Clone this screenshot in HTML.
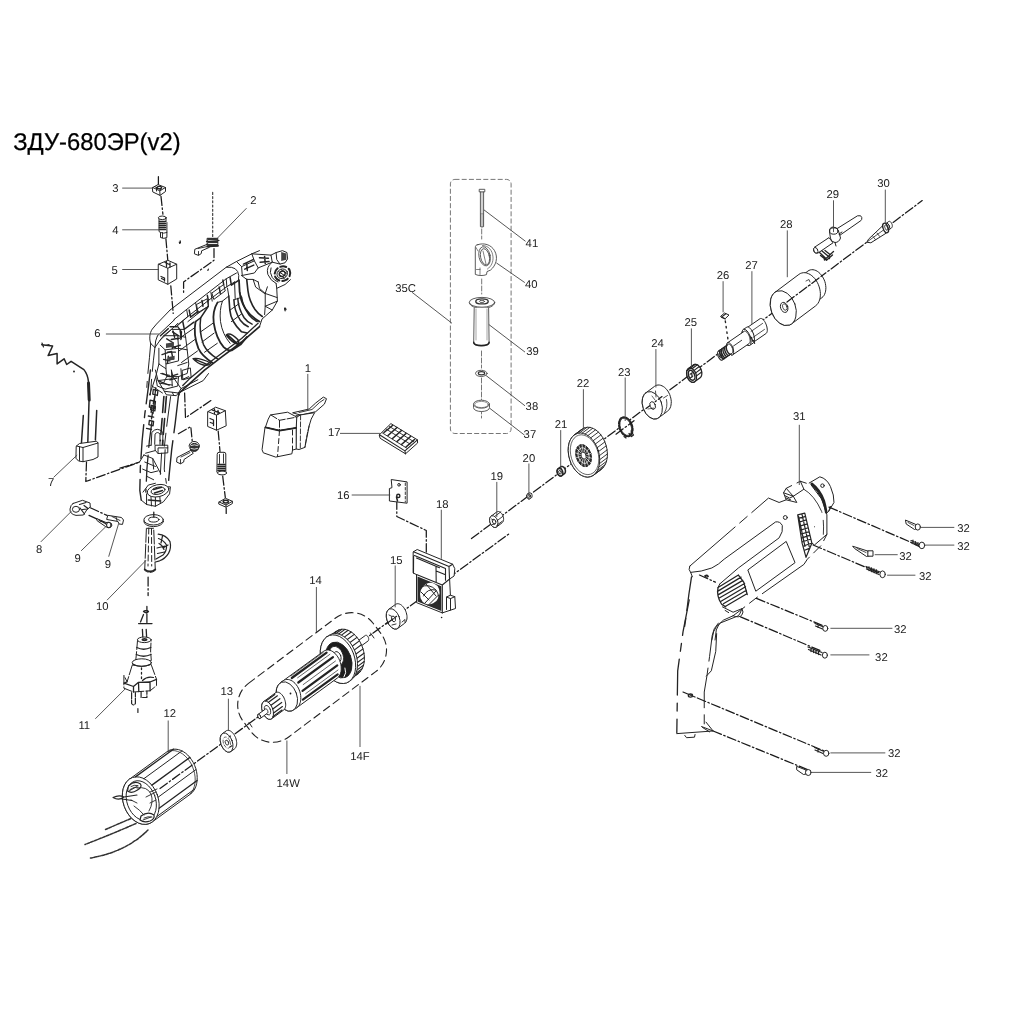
<!DOCTYPE html>
<html lang="ru"><head><meta charset="utf-8"><title>ЗДУ-680ЭР(v2)</title>
<style>
html,body{margin:0;padding:0;background:#fff;}
body{width:1017px;height:1017px;overflow:hidden;position:relative;font-family:"Liberation Sans",sans-serif;}
svg{position:absolute;left:0;top:0;display:block}
svg *{vector-effect:non-scaling-stroke}
svg text{vector-effect:none}
svg{will-change:transform}
.t{font-family:"Liberation Sans",sans-serif;fill:#222;stroke:none;text-rendering:geometricPrecision}
.lb{font-size:11.3px;text-anchor:middle}
.ld{stroke:#444;stroke-width:0.9;fill:none}
.p{stroke:#242424;stroke-width:1.0;fill:none;stroke-linejoin:round;stroke-linecap:round}
.pw{stroke:#242424;stroke-width:1.0;fill:#fff;stroke-linejoin:round;stroke-linecap:round}
.k{fill:#1c1c1c;stroke:none}
.ax{stroke:#1a1a1a;stroke-width:1.25;fill:none;stroke-dasharray:9 2.5 1.5 2.5}
.ds{stroke:#333;stroke-width:1;fill:none;stroke-dasharray:6 4}
</style></head><body>
<svg width="1017" height="1017" viewBox="0 0 1017 1017">
<rect x="0" y="0" width="1017" height="1017" fill="#fff" stroke="none"/>
<!-- 10_handle35.svg -->
<g id="g35" fill="none" stroke="#4a4a4a" stroke-width="0.9" stroke-linecap="round" stroke-linejoin="round">
<rect x="450.4" y="179.4" width="60.7" height="254.1" rx="4.5" ry="4.5" stroke="#666" stroke-dasharray="4.2 3"/>
<!-- axis -->
<path d="M481.7 229v10M481.7 279v15M481.5 351v17M481.5 378v22M481.5 409v9" stroke="#666" stroke-dasharray="5 2"/>
<!-- bolt 41 -->
<path d="M479.6 189.3h5.2v2.6h-5.2zM480.4 192v34.6q1.6 1 3.2 0V192" fill="#fff"/>
<path d="M480.6 214h2.8M480.6 216h2.8M480.6 218h2.8M480.6 220h2.8M480.6 222h2.8M480.6 224h2.8M480.6 226h2.8" stroke-width="0.7"/>
<path d="M482 192v22" stroke-width="0.5"/>
<!-- clamp 40 -->
<path d="M478 244.6c6-2 13 0 16.500 6c4 7 1.500 15-4 19.500l-3.500 1.500l-.5 3c-3 1.300-8 1.300-11.200-.2v-26.500c0-2.500 1-3.300 2.700-3.300z" fill="#fff"/>
<ellipse cx="484.600" cy="256.300" rx="5.600" ry="9.700" transform="rotate(-12 484.6 256.3)" fill="#fff"/>
<ellipse cx="485" cy="256.800" rx="4.400" ry="8.200" transform="rotate(-12 485 256.8)" />
<path d="M482.500 245.500c6 0 10 5 10.500 11.500c.4 5-1.800 9.500-5.500 12M476 247.500l2 3.500M480 268v6.500M476.5 269.500h3.500M483 251l3 13" stroke-width="0.7"/>
<!-- handle 39 -->
<ellipse cx="482" cy="302.300" rx="12.700" ry="4.900" fill="#fff"/>
<path d="M469.400 303c1 3.500 6 5.300 12.600 5.300s11.800-1.800 12.700-5.300" />
<ellipse cx="482" cy="301.400" rx="6.200" ry="2.500" stroke="#333" stroke-width="1.400"/>
<ellipse cx="482" cy="301.400" rx="2.600" ry="1.100"/>
<path d="M474.200 308l-.5 35c0 4 15.400 4 15.400 0l-.5-35" fill="#fff"/>
<path d="M473.700 342.300c0 4.200 15.400 4.200 15.400 0" stroke="#222" stroke-width="1.500"/>
<path d="M476 309v31M487 309v31" stroke-width="0.5"/>
<!-- washer 38 -->
<ellipse cx="481.300" cy="373.400" rx="5.800" ry="3.100" fill="#fff"/>
<ellipse cx="481.500" cy="373.300" rx="3.200" ry="1.600" stroke="#333" stroke-width="1.200"/>
<!-- ring 37 -->
<path d="M473.500 404.200v3.400c0 5.200 16 5.200 16 0v-3.400" fill="#fff"/>
<ellipse cx="481.500" cy="404.200" rx="8" ry="4" fill="#fff"/>
<ellipse cx="481.500" cy="404.500" rx="6.800" ry="3.100" stroke-width="0.6"/>
</g>
<!-- 20_upper.svg -->
<g id="upper" class="p">
<line class="ax" x1="471.5" y1="538.6" x2="922.2" y2="200.6"/>
<path class="pw" d="M867.1 241.9 L868.5 239.2 L882.3 226.1 L886.4 233 L871.2 242.6 Z"/>
<path d="M868 241.2 L884.5 229.3 M873 236.500 l2.500 3.200 M877 233 l2.600 3.400" stroke-width="0.8"/>
<path d="M886.1 223.5 L888.7 221.5 L888.9 221.4 L889.1 221.3 L889.4 221.3 L889.7 221.4 L889.9 221.5 L890.2 221.6 L890.5 221.8 L890.8 222.1 L891.0 222.4 L891.3 222.7 L891.5 223.1 L891.7 223.5 L891.9 223.9 L892.1 224.4 L892.2 224.8 L892.3 225.2 L892.3 225.7 L892.3 226.1 L892.3 226.5 L892.2 226.8 L892.1 227.1 L892.0 227.4 L891.8 227.6 L891.6 227.8 L889.1 229.7 L889.1 229.7 L888.9 229.9 L888.6 229.9 L888.4 230.0 L888.1 229.9 L887.8 229.8 L887.5 229.7 L887.3 229.4 L887.0 229.2 L886.7 228.9 L886.5 228.5 L886.2 228.2 L886.0 227.8 L885.9 227.4 L885.7 226.9 L885.6 226.5 L885.5 226.0 L885.5 225.6 L885.5 225.2 L885.5 224.8 L885.5 224.5 L885.6 224.1 L885.8 223.9 L885.9 223.6 L886.1 223.5 Z" fill="#fff" />
<ellipse cx="887.6" cy="226.6" rx="1.9" ry="3.5" transform="rotate(-20.0 887.6 226.6)" fill="#fff" />
<ellipse cx="885.6" cy="228.0" rx="2.5" ry="5.0" transform="rotate(-20.0 885.6 228.0)" fill="#fff" stroke-width="1.3"/>
<ellipse cx="886.2" cy="227.6" rx="1.3" ry="2.8" transform="rotate(-20.0 886.2 227.6)" fill="none" stroke-width="0.8"/>
<path class="pw" d="M836.8 228.8 L857.5 215.8 Q861.5 214.8 861.8 217.6 Q862 219.8 860.9 220.6 L840.2 235 Z"/>
<path class="pw" d="M814.6 247.2 L829 237.6 L833 242.8 L817.8 253.2 Q814.8 254 813.6 251 Q813 248.600 814.6 247.2Z"/>
<ellipse class="pw" cx="815.8" cy="250.3" rx="1.9" ry="3" transform="rotate(-25 815.8 250.3)"/>
<path class="pw" d="M829.5 231.5 Q829 227.5 833 227 Q837.5 227 838.5 231 L840.5 238 Q839 242.5 835 242.5 Q831 242 830.5 238.5Z"/>
<ellipse cx="833.8" cy="231" rx="4.2" ry="3.2" fill="none"/>
<path d="M839 234 L842 232 M835 242.5 L836 246" />
<path d="M819.5 252.5 L826 258.500 L833.5 251.500 M820.5 255.5 L826.5 260.3 L832.5 255 M822 251 L828 256 M825 250.500 L830 254.500 M824 257.500 L824.500 260 M829 256 L829.5 258.500" stroke-width="1.3"/>
<path d="M815.5 280.1 L818.3 278.0 L818.5 277.8 L818.7 277.8 L819.0 277.7 L819.3 277.7 L819.6 277.8 L819.9 277.9 L820.1 278.1 L820.4 278.3 L820.7 278.6 L820.9 278.9 L821.1 279.2 L821.3 279.6 L821.5 279.9 L821.7 280.3 L821.8 280.7 L821.8 281.1 L821.9 281.5 L821.9 281.9 L821.8 282.3 L821.8 282.6 L821.6 282.9 L821.5 283.2 L821.3 283.4 L821.1 283.6 L818.3 285.7 L818.3 285.7 L818.1 285.9 L817.9 285.9 L817.6 286.0 L817.3 286.0 L817.0 285.9 L816.7 285.8 L816.5 285.6 L816.2 285.4 L815.9 285.1 L815.7 284.8 L815.5 284.5 L815.3 284.1 L815.1 283.8 L814.9 283.4 L814.8 283.0 L814.8 282.6 L814.7 282.2 L814.7 281.8 L814.8 281.4 L814.8 281.1 L815.0 280.8 L815.1 280.5 L815.3 280.3 L815.5 280.1 Z" fill="#fff" />
<ellipse cx="816.9" cy="282.9" rx="2.0" ry="3.2" transform="rotate(-20.0 816.9 282.9)" fill="#fff" />
<path d="M800.3 276.8 L807.9 271.1 L809.0 270.4 L810.3 269.9 L811.6 269.7 L813.0 269.7 L814.4 270.0 L815.9 270.5 L817.3 271.3 L818.7 272.3 L820.0 273.5 L821.2 274.9 L822.3 276.4 L823.3 278.1 L824.2 279.9 L824.9 281.7 L825.4 283.6 L825.7 285.6 L825.9 287.5 L825.8 289.3 L825.6 291.1 L825.2 292.7 L824.6 294.3 L823.9 295.6 L823.0 296.7 L821.9 297.7 L814.3 303.4 L814.3 303.4 L813.2 304.1 L811.9 304.6 L810.6 304.8 L809.2 304.8 L807.8 304.5 L806.3 304.0 L804.9 303.2 L803.5 302.2 L802.2 301.0 L801.0 299.6 L799.9 298.1 L798.9 296.4 L798.0 294.6 L797.3 292.8 L796.8 290.9 L796.5 288.9 L796.3 287.0 L796.4 285.2 L796.6 283.4 L797.0 281.8 L797.6 280.2 L798.3 278.9 L799.2 277.8 L800.3 276.8 Z" fill="#fff" />
<path d="M774.9 292.4 L798.9 274.4 L800.3 273.5 L801.8 273.0 L803.4 272.7 L805.1 272.7 L806.8 273.0 L808.5 273.7 L810.2 274.5 L811.8 275.7 L813.4 277.1 L814.9 278.7 L816.2 280.6 L817.4 282.5 L818.4 284.7 L819.2 286.9 L819.8 289.1 L820.2 291.4 L820.4 293.7 L820.3 295.9 L820.1 298.0 L819.6 299.9 L818.9 301.7 L818.0 303.3 L816.9 304.7 L815.7 305.8 L791.7 323.8 L791.7 323.8 L790.3 324.7 L788.8 325.2 L787.2 325.5 L785.5 325.5 L783.8 325.2 L782.1 324.5 L780.4 323.7 L778.8 322.5 L777.2 321.1 L775.7 319.5 L774.4 317.6 L773.2 315.7 L772.2 313.5 L771.4 311.3 L770.8 309.1 L770.4 306.8 L770.2 304.5 L770.3 302.3 L770.5 300.2 L771.0 298.3 L771.7 296.5 L772.6 294.9 L773.7 293.5 L774.9 292.4 Z" fill="#fff" />
<ellipse cx="783.3" cy="308.1" rx="12.3" ry="18.0" transform="rotate(-20.0 783.3 308.1)" fill="#fff" />
<ellipse cx="784.2" cy="307.4" rx="3.6" ry="5.2" transform="rotate(-20.0 784.2 307.4)" fill="#fff"/>
<ellipse cx="784.8" cy="307.0" rx="2.1" ry="3.4" transform="rotate(-20.0 784.8 307.0)" fill="none" stroke-width="0.8"/>
<line class="ax" x1="787" y1="302" x2="822" y2="275.7"/>
<path d="M806 281 l3 -1.5 l1 2.500 M808 286 l2.5 -1" stroke-width="0.8"/>
<path d="M746.9 327.8 L760.0 318.7 L760.4 318.5 L760.9 318.5 L761.4 318.5 L761.9 318.7 L762.4 319.0 L763.0 319.5 L763.5 320.0 L764.0 320.7 L764.6 321.4 L765.1 322.2 L765.5 323.1 L766.0 324.1 L766.3 325.1 L766.7 326.0 L766.9 327.0 L767.1 328.0 L767.2 329.0 L767.3 329.9 L767.3 330.7 L767.2 331.4 L767.0 332.1 L766.8 332.6 L766.5 333.1 L766.2 333.4 L753.0 342.5 L753.0 342.5 L752.6 342.7 L752.2 342.8 L751.7 342.7 L751.2 342.5 L750.6 342.2 L750.1 341.7 L749.5 341.2 L749.0 340.5 L748.4 339.8 L747.9 339.0 L747.5 338.1 L747.1 337.1 L746.7 336.2 L746.4 335.2 L746.1 334.2 L745.9 333.2 L745.8 332.3 L745.7 331.4 L745.7 330.5 L745.8 329.8 L746.0 329.1 L746.2 328.6 L746.5 328.1 L746.9 327.8 Z" fill="#fff" />
<ellipse cx="749.9" cy="335.2" rx="3.4" ry="8.0" transform="rotate(-20.0 749.9 335.2)" fill="#fff" />
<path d="M743.3 329.5 L746.6 327.3 L747.1 327.0 L747.5 327.0 L748.1 327.0 L748.6 327.2 L749.2 327.6 L749.8 328.0 L750.4 328.6 L751.0 329.3 L751.6 330.1 L752.1 331.0 L752.6 332.0 L753.1 333.0 L753.5 334.0 L753.8 335.1 L754.1 336.2 L754.3 337.2 L754.4 338.2 L754.5 339.2 L754.5 340.1 L754.4 340.9 L754.2 341.6 L753.9 342.2 L753.6 342.7 L753.2 343.0 L749.9 345.3 L749.9 345.3 L749.5 345.5 L749.0 345.6 L748.5 345.5 L747.9 345.3 L747.4 345.0 L746.8 344.5 L746.2 343.9 L745.6 343.2 L745.0 342.4 L744.5 341.6 L744.0 340.6 L743.5 339.6 L743.1 338.5 L742.8 337.5 L742.5 336.4 L742.3 335.3 L742.1 334.3 L742.1 333.4 L742.1 332.5 L742.2 331.7 L742.4 331.0 L742.6 330.4 L742.9 329.9 L743.3 329.5 Z" fill="#fff" />
<ellipse cx="746.6" cy="337.4" rx="3.7" ry="8.6" transform="rotate(-20.0 746.6 337.4)" fill="#fff" />
<path d="M727.6 342.7 L744.1 331.4 L744.4 331.2 L744.8 331.1 L745.2 331.2 L745.7 331.3 L746.1 331.6 L746.6 332.0 L747.0 332.4 L747.5 332.9 L747.9 333.5 L748.3 334.2 L748.7 335.0 L749.1 335.7 L749.4 336.5 L749.7 337.4 L749.9 338.2 L750.0 339.0 L750.1 339.8 L750.2 340.5 L750.2 341.2 L750.1 341.8 L749.9 342.4 L749.7 342.8 L749.5 343.2 L749.2 343.5 L732.7 354.8 L732.7 354.8 L732.4 355.0 L732.0 355.1 L731.6 355.0 L731.2 354.9 L730.7 354.6 L730.2 354.3 L729.8 353.8 L729.3 353.3 L728.9 352.7 L728.5 352.0 L728.1 351.3 L727.7 350.5 L727.4 349.7 L727.1 348.9 L726.9 348.0 L726.8 347.2 L726.7 346.4 L726.6 345.7 L726.7 345.0 L726.7 344.4 L726.9 343.8 L727.1 343.4 L727.3 343.0 L727.6 342.7 Z" fill="#fff" />
<ellipse cx="730.2" cy="348.8" rx="2.9" ry="6.6" transform="rotate(-20.0 730.2 348.8)" fill="#fff" />
<path d="M718.4 351.1 L728.3 344.3 L728.5 344.2 L728.8 344.1 L729.1 344.1 L729.5 344.3 L729.8 344.4 L730.1 344.7 L730.5 345.0 L730.8 345.4 L731.2 345.9 L731.5 346.4 L731.8 346.9 L732.0 347.5 L732.3 348.1 L732.5 348.7 L732.6 349.3 L732.7 349.9 L732.8 350.5 L732.8 351.0 L732.8 351.6 L732.8 352.0 L732.6 352.4 L732.5 352.8 L732.3 353.1 L732.1 353.3 L722.2 360.1 L722.2 360.1 L721.9 360.2 L721.7 360.3 L721.3 360.2 L721.0 360.1 L720.7 359.9 L720.3 359.7 L720.0 359.3 L719.6 359.0 L719.3 358.5 L719.0 358.0 L718.7 357.5 L718.4 356.9 L718.2 356.3 L718.0 355.7 L717.9 355.1 L717.7 354.5 L717.7 353.9 L717.6 353.3 L717.7 352.8 L717.7 352.4 L717.8 351.9 L718.0 351.6 L718.2 351.3 L718.4 351.1 Z" fill="#fff" />
<ellipse cx="720.3" cy="355.6" rx="2.2" ry="4.9" transform="rotate(-20.0 720.3 355.6)" fill="#fff" />
<path d="M724.3 358.7 L723.6 358.8 L722.8 358.6 L722.0 357.9 L721.2 356.8 L720.5 355.5 L720.0 354.0 L719.7 352.6 L719.7 351.3 L720.0 350.3 L720.5 349.7" stroke-width="1.400"/>
<path d="M725.9 357.5 L725.2 357.7 L724.5 357.4 L723.6 356.7 L722.8 355.7 L722.1 354.3 L721.6 352.9 L721.4 351.4 L721.4 350.2 L721.6 349.2 L722.1 348.6" stroke-width="1.400"/>
<path d="M727.6 356.4 L726.9 356.6 L726.1 356.3 L725.3 355.6 L724.5 354.5 L723.8 353.2 L723.3 351.7 L723.0 350.3 L723.0 349.0 L723.3 348.0 L723.7 347.4" stroke-width="1.400"/>
<path d="M729.2 355.3 L728.5 355.4 L727.7 355.2 L726.9 354.4 L726.1 353.4 L725.4 352.1 L724.9 350.6 L724.7 349.2 L724.7 347.9 L724.9 346.9 L725.4 346.3" stroke-width="1.400"/>
<path d="M730.8 354.1 L730.2 354.3 L729.4 354.0 L728.6 353.3 L727.8 352.2 L727.1 350.9 L726.6 349.5 L726.3 348.0 L726.3 346.8 L726.6 345.8 L727.0 345.2" stroke-width="1.400"/>
<ellipse cx="720.3" cy="355.6" rx="1.1" ry="2.6" transform="rotate(-20.0 720.3 355.6)" fill="none"/>
<path d="M751.1 331.4 L762.6 323.4 M753.0 337.4 L764.5 329.4" stroke-width="0.8"/>
<path d="M733.5 346.0 L741.7 340.3" stroke-width="0.9"/>
<path d="M751.3 337.3 l1.5 4 l1 -1 l0.800 3" stroke-width="1.2"/>
<path d="M725.3 321 L728.2 341" stroke-dasharray="1.5 4" stroke-width="1.4"/>
<path class="pw" d="M720.8 316.2 L724.5 313 L729 315 L725.5 318.4 Z"/>
<path d="M722.5 316.400 L725.8 313.800 M721.5 317.3 L725.2 319" stroke-width="1.2"/>
<path d="M688.3 368.8 L693.5 364.9 L694.1 364.5 L694.6 364.3 L695.2 364.3 L695.9 364.3 L696.5 364.5 L697.2 364.7 L697.8 365.1 L698.4 365.6 L699.0 366.2 L699.6 366.9 L700.1 367.7 L700.6 368.5 L701.0 369.3 L701.3 370.2 L701.5 371.1 L701.7 372.1 L701.8 373.0 L701.8 373.9 L701.7 374.7 L701.5 375.5 L701.3 376.2 L700.9 376.8 L700.5 377.3 L700.1 377.7 L694.9 381.6 L694.9 381.6 L694.3 382.0 L693.8 382.2 L693.2 382.2 L692.5 382.2 L691.9 382.0 L691.2 381.8 L690.6 381.4 L690.0 380.9 L689.4 380.3 L688.8 379.6 L688.3 378.8 L687.8 378.0 L687.4 377.2 L687.1 376.3 L686.9 375.4 L686.7 374.4 L686.6 373.5 L686.6 372.6 L686.7 371.8 L686.9 371.0 L687.1 370.3 L687.5 369.7 L687.9 369.2 L688.3 368.8 Z" fill="#fff" stroke-width="1.3"/>
<ellipse cx="691.6" cy="375.2" rx="4.6" ry="7.3" transform="rotate(-20.0 691.6 375.2)" fill="#fff" stroke-width="1.3"/>
<path d="M687.0 370.6 L692.2 366.7" stroke-width="1.1"/>
<path d="M688.3 368.8 L693.5 364.9" stroke-width="1.1"/>
<path d="M690.1 368.2 L695.3 364.3" stroke-width="1.1"/>
<path d="M692.1 368.7 L697.3 364.8" stroke-width="1.1"/>
<path d="M694.1 370.4 L699.3 366.5" stroke-width="1.1"/>
<path d="M695.7 372.9 L700.9 369.0" stroke-width="1.1"/>
<path d="M696.5 375.9 L701.7 372.0" stroke-width="1.1"/>
<ellipse cx="691.6" cy="375.2" rx="3.0" ry="5.2" transform="rotate(-20.0 691.6 375.2)" fill="#fff" stroke-width="1.5"/>
<path d="M690.1 374.2 l2.2 -1.6 M690.6 377.7 l2.200 -1.600 M691.9 373.2 l0 4" stroke-width="1.1"/>
<path d="M645.8 392.9 L654.6 386.3 L655.6 385.6 L656.8 385.2 L658.0 385.0 L659.3 385.0 L660.7 385.3 L662.0 385.8 L663.3 386.5 L664.6 387.4 L665.8 388.5 L666.9 389.8 L668.0 391.3 L668.9 392.9 L669.7 394.5 L670.3 396.3 L670.8 398.1 L671.1 399.9 L671.3 401.6 L671.2 403.4 L671.0 405.0 L670.7 406.5 L670.1 408.0 L669.4 409.2 L668.6 410.3 L667.6 411.1 L658.8 417.7 L658.8 417.7 L657.8 418.4 L656.6 418.8 L655.4 419.0 L654.1 419.0 L652.7 418.7 L651.4 418.2 L650.1 417.5 L648.8 416.6 L647.6 415.5 L646.5 414.2 L645.4 412.7 L644.5 411.1 L643.7 409.5 L643.1 407.7 L642.6 405.9 L642.3 404.1 L642.1 402.4 L642.2 400.6 L642.4 399.0 L642.7 397.5 L643.3 396.0 L644.0 394.8 L644.8 393.7 L645.8 392.9 Z" fill="#fff" />
<ellipse cx="652.3" cy="405.3" rx="9.5" ry="14.2" transform="rotate(-20.0 652.3 405.3)" fill="#fff" />
<line class="ax" x1="646" y1="408.6" x2="662" y2="396.6"/>
<ellipse cx="652.7" cy="405.5" rx="2.6" ry="4.0" transform="rotate(-20.0 652.7 405.5)" fill="#fff"/>
<path d="M655.5 391 l0.5 6 M663.5 398 l4 -2.5 M664.500 412.5 q3.500 -5 2 -13" stroke-width="0.8"/>
<path d="M648 409 l6 -1 M652 396 l3 4" stroke-width="0.700"/>
<ellipse cx="625.8" cy="426.8" rx="6.2" ry="9.8" transform="rotate(-20.0 625.8 426.8)" fill="#fff" stroke-width="2.2" stroke-dasharray="2.200 1.600"/>
<ellipse cx="625.8" cy="426.8" rx="5.4" ry="9.0" transform="rotate(-20.0 625.8 426.8)" fill="#fff" stroke-width="0.9"/>
<path d="M629 433.500 l2.5 3 l2 -1.500 l-2.5 -4 M624 436.500 l2 1.500" stroke-width="1.2"/>
<line class="ax" x1="616" y1="434.2" x2="634" y2="420.7"/>
<path d="M574.2 435.0 L581.8 429.3 L583.5 428.3 L585.4 427.6 L587.3 427.3 L589.3 427.3 L591.4 427.8 L593.5 428.6 L595.5 429.7 L597.5 431.2 L599.3 433.1 L601.1 435.1 L602.6 437.5 L604.0 440.0 L605.2 442.7 L606.1 445.5 L606.8 448.4 L607.2 451.2 L607.4 454.1 L607.3 456.9 L606.9 459.5 L606.3 462.0 L605.4 464.2 L604.2 466.2 L602.9 467.9 L601.4 469.3 L593.8 475.0 L593.8 475.0 L592.1 476.0 L590.2 476.7 L588.3 477.0 L586.3 477.0 L584.2 476.5 L582.1 475.7 L580.1 474.6 L578.1 473.1 L576.3 471.2 L574.5 469.2 L573.0 466.8 L571.6 464.3 L570.4 461.6 L569.5 458.8 L568.8 455.9 L568.4 453.1 L568.2 450.2 L568.3 447.4 L568.7 444.8 L569.3 442.3 L570.2 440.1 L571.4 438.1 L572.7 436.4 L574.2 435.0 Z" fill="#fff" />
<ellipse cx="584.0" cy="455.0" rx="15.0" ry="22.6" transform="rotate(-17.0 584.0 455.0)" fill="#fff" />
<path d="M574.2 435.0 L581.8 429.3" stroke-width="0.9"/>
<path d="M576.7 433.6 L584.3 427.9" stroke-width="0.9"/>
<path d="M579.4 433.0 L587.0 427.3" stroke-width="0.9"/>
<path d="M582.2 433.1 L589.8 427.4" stroke-width="0.9"/>
<path d="M585.1 434.0 L592.7 428.3" stroke-width="0.9"/>
<path d="M588.0 435.5 L595.6 429.8" stroke-width="0.9"/>
<path d="M590.8 437.8 L598.4 432.1" stroke-width="0.9"/>
<path d="M593.3 440.6 L600.9 434.9" stroke-width="0.9"/>
<path d="M595.5 443.9 L603.1 438.2" stroke-width="0.9"/>
<path d="M597.3 447.6 L604.9 441.9" stroke-width="0.9"/>
<path d="M598.6 451.5 L606.2 445.8" stroke-width="0.9"/>
<path d="M599.5 455.6 L607.1 449.9" stroke-width="0.9"/>
<path d="M599.8 459.6 L607.4 453.9" stroke-width="0.9"/>
<path d="M599.6 463.5 L607.2 457.8" stroke-width="0.9"/>
<path d="M598.8 467.1 L606.4 461.4" stroke-width="0.9"/>
<path d="M597.6 470.3 L605.2 464.6" stroke-width="0.9"/>
<path d="M595.9 472.9 L603.5 467.2" stroke-width="0.9"/>
<path d="M593.8 475.0 L601.4 469.3" stroke-width="0.9"/>
<ellipse cx="584.6" cy="454.7" rx="13.6" ry="20.4" transform="rotate(-17.0 584.6 454.7)" fill="none" stroke-width="0.7"/>
<ellipse cx="583.6" cy="455.6" rx="7.6" ry="11.4" transform="rotate(-17.0 583.6 455.6)" fill="#2a2a2a"/>
<path d="M590.9 453.4 L586.1 454.8" stroke="#fff" stroke-width="0.65"/>
<path d="M591.6 458.3 L586.3 456.5" stroke="#fff" stroke-width="0.65"/>
<path d="M590.7 462.7 L586.0 458.0" stroke="#fff" stroke-width="0.65"/>
<path d="M588.5 465.7 L585.2 459.0" stroke="#fff" stroke-width="0.65"/>
<path d="M585.2 466.7 L584.1 459.3" stroke="#fff" stroke-width="0.65"/>
<path d="M581.7 465.5 L582.9 458.9" stroke="#fff" stroke-width="0.65"/>
<path d="M578.5 462.3 L581.8 457.9" stroke="#fff" stroke-width="0.65"/>
<path d="M576.3 457.8 L581.1 456.4" stroke="#fff" stroke-width="0.65"/>
<path d="M575.6 452.9 L580.9 454.7" stroke="#fff" stroke-width="0.65"/>
<path d="M576.5 448.5 L581.2 453.2" stroke="#fff" stroke-width="0.65"/>
<path d="M578.7 445.5 L582.0 452.2" stroke="#fff" stroke-width="0.65"/>
<path d="M582.0 444.5 L583.1 451.9" stroke="#fff" stroke-width="0.65"/>
<path d="M585.5 445.7 L584.3 452.3" stroke="#fff" stroke-width="0.65"/>
<path d="M588.7 448.9 L585.4 453.3" stroke="#fff" stroke-width="0.65"/>
<ellipse cx="583.6" cy="455.6" rx="2.4" ry="3.5" transform="rotate(-17.0 583.6 455.6)" fill="#fff" stroke-width="0.8"/>
<ellipse cx="583.6" cy="455.6" rx="5.4" ry="8.0" transform="rotate(-17.0 583.6 455.6)" fill="none" stroke-width="0.8" stroke="#fff"/>
<path d="M558.2 468.8 L560.7 466.9 L561.0 466.7 L561.4 466.6 L561.7 466.5 L562.1 466.5 L562.5 466.6 L562.8 466.7 L563.2 466.9 L563.6 467.1 L563.9 467.4 L564.2 467.8 L564.5 468.2 L564.8 468.6 L565.0 469.1 L565.2 469.6 L565.3 470.0 L565.4 470.5 L565.4 471.0 L565.4 471.5 L565.4 472.0 L565.2 472.4 L565.1 472.8 L564.9 473.1 L564.7 473.4 L564.4 473.7 L561.8 475.6 L561.8 475.6 L561.5 475.8 L561.2 475.9 L560.8 476.0 L560.5 476.0 L560.1 475.9 L559.7 475.8 L559.4 475.6 L559.0 475.3 L558.7 475.0 L558.3 474.7 L558.0 474.3 L557.8 473.9 L557.6 473.4 L557.4 472.9 L557.3 472.4 L557.2 471.9 L557.1 471.4 L557.1 471.0 L557.2 470.5 L557.3 470.1 L557.5 469.7 L557.7 469.3 L557.9 469.0 L558.2 468.8 Z" fill="#fff" stroke-width="1.5"/>
<ellipse cx="560.0" cy="472.2" rx="2.7" ry="3.9" transform="rotate(-20.0 560.0 472.2)" fill="#fff" stroke-width="1.5"/>
<ellipse cx="560.0" cy="472.2" rx="1.2" ry="1.9" transform="rotate(-20.0 560.0 472.2)" fill="#fff" stroke-width="1"/>
<path d="M527.5 494.1 L528.8 493.1 L529.0 493.0 L529.2 492.9 L529.5 492.8 L529.8 492.8 L530.0 492.9 L530.3 492.9 L530.6 493.1 L530.8 493.2 L531.1 493.4 L531.3 493.7 L531.5 493.9 L531.7 494.2 L531.9 494.5 L532.0 494.9 L532.1 495.2 L532.1 495.5 L532.2 495.9 L532.2 496.2 L532.1 496.5 L532.0 496.8 L531.9 497.1 L531.8 497.4 L531.6 497.6 L531.4 497.8 L530.1 498.7 L530.1 498.7 L529.9 498.9 L529.6 499.0 L529.4 499.0 L529.1 499.0 L528.8 499.0 L528.6 498.9 L528.3 498.8 L528.0 498.6 L527.8 498.4 L527.6 498.2 L527.4 497.9 L527.2 497.6 L527.0 497.3 L526.9 497.0 L526.8 496.6 L526.7 496.3 L526.7 496.0 L526.7 495.6 L526.8 495.3 L526.8 495.0 L527.0 494.7 L527.1 494.5 L527.3 494.3 L527.5 494.1 Z" fill="#fff" />
<ellipse cx="528.8" cy="496.4" rx="2.0" ry="2.7" transform="rotate(-20.0 528.8 496.4)" fill="#fff" />
<ellipse cx="528.8" cy="496.4" rx="0.9" ry="1.3" transform="rotate(-20.0 528.8 496.4)" fill="none" stroke-width="0.700"/>
<path d="M491.1 516.2 L496.7 512.0 L497.1 511.8 L497.6 511.6 L498.1 511.5 L498.6 511.5 L499.2 511.7 L499.7 511.9 L500.3 512.2 L500.8 512.6 L501.3 513.1 L501.8 513.7 L502.2 514.3 L502.6 515.0 L502.9 515.7 L503.2 516.5 L503.4 517.2 L503.5 518.0 L503.6 518.8 L503.6 519.5 L503.5 520.2 L503.4 520.9 L503.2 521.4 L502.9 522.0 L502.5 522.4 L502.1 522.8 L496.5 527.0 L496.5 527.0 L496.1 527.2 L495.6 527.4 L495.1 527.5 L494.6 527.5 L494.0 527.3 L493.5 527.1 L492.9 526.8 L492.4 526.4 L491.9 525.9 L491.4 525.3 L491.0 524.7 L490.6 524.0 L490.3 523.3 L490.0 522.5 L489.8 521.8 L489.7 521.0 L489.6 520.2 L489.6 519.5 L489.7 518.8 L489.8 518.1 L490.0 517.6 L490.3 517.0 L490.7 516.6 L491.1 516.2 Z" fill="#fff" />
<ellipse cx="493.8" cy="521.6" rx="3.9" ry="6.1" transform="rotate(-20.0 493.8 521.6)" fill="#fff" />
<ellipse cx="494.1" cy="521.6" rx="1.6" ry="2.5" transform="rotate(-20.0 494.1 521.6)" fill="none"/>
<path d="M495.3 516 l5.6 -4.200 M497.3 520.5 l5.600 -4.200 M496.8 525.3 l5.6 -4.2 M491.500 519 l2 1 M492 524.500 l3 -0.500" stroke-width="0.900"/>
</g>
<!-- 30_lower.svg -->
<g id="lower" class="p">
<line class="ax" x1="160" y1="788.5" x2="509.6" y2="533.4"/>
<rect x="230.7" y="644.0" width="162.8" height="67" rx="27" ry="27" transform="rotate(-36.87 312.1 677.5)" fill="none" stroke="#222" stroke-width="1.1" stroke-dasharray="7.5 4.5"/>
<path d="M129.3 779.3 L167.2 751.6 L169.2 750.4 L171.4 749.6 L173.6 749.2 L176.0 749.2 L178.4 749.6 L180.8 750.4 L183.2 751.6 L185.5 753.1 L187.7 755.0 L189.7 757.2 L191.5 759.7 L193.2 762.4 L194.6 765.3 L195.7 768.3 L196.5 771.3 L197.0 774.5 L197.2 777.5 L197.1 780.5 L196.7 783.4 L196.0 786.1 L194.9 788.6 L193.6 790.8 L192.1 792.7 L190.3 794.2 L152.3 821.9 L152.3 821.9 L150.4 823.1 L148.2 823.9 L145.9 824.3 L143.6 824.3 L141.2 823.9 L138.8 823.1 L136.4 821.9 L134.1 820.4 L131.9 818.5 L129.9 816.3 L128.0 813.8 L126.4 811.1 L125.0 808.2 L123.9 805.2 L123.1 802.2 L122.6 799.0 L122.3 796.0 L122.5 792.9 L122.9 790.1 L123.6 787.4 L124.6 784.9 L125.9 782.7 L127.5 780.8 L129.3 779.3 Z" fill="#fff" />
<ellipse cx="140.8" cy="800.6" rx="17.5" ry="24.5" transform="rotate(-20.0 140.8 800.6)" fill="#fff" />
<path d="M135.4 776.9 L173.4 749.2" stroke-width="1.3"/>
<path d="M144.0 778.6 L182.0 750.9" stroke-width="1.0"/>
<path d="M151.9 785.1 L189.9 757.4" stroke-width="1.3"/>
<path d="M158.1 797.2 L196.0 769.5" stroke-width="1.0"/>
<path d="M159.1 808.3 L197.1 780.5" stroke-width="1.3"/>
<path d="M156.8 816.6 L194.8 788.9" stroke-width="1.0"/>
<path d="M167.5 751.7 L169.9 750.9 L172.3 750.6 L174.9 750.7 L177.5 751.4 L180.2 752.5 L182.7 754.0 L185.1 756.0 L187.3 758.3 L189.4 760.9 L191.2 763.9 L192.6 767.0 L193.8 770.3 L194.6 773.6 L195.1 777.0 L195.2 780.3 L194.9 783.5 L194.3 786.5 L193.3 789.3 L191.9 791.8 L190.3 793.9" stroke-width="0.8"/>
<line class="ax" x1="160" y1="788.5" x2="192" y2="765.2"/>
<ellipse cx="141.3" cy="800.6" rx="14.3" ry="20.5" transform="rotate(-20.0 141.3 800.6)" fill="#fff" stroke-width="1"/>
<path d="M128.5 786 q6 -6 12 -2 q2 3 -3 6 q-6 4 -10 1 z" fill="#fff" stroke-width="1.2"/>
<path d="M130 789.5 q4 -3 8 -2.5 M131 786.5 q3 -2 7 -1 M129 791 l8 -4.500" stroke-width="0.9"/>
<path d="M141 816 q7 -5 13 -1 q1 4 -4 6 q-6 2 -10 -1 z" fill="#fff" stroke-width="1.2"/>
<path d="M144 818 q4 -2 8 -1 M143 820 l8 -3" stroke-width="0.9"/>
<path d="M137 788 q10 -2 14 6 q3 8 -2 17 M150 792 l7 -3 M146 797 l10 -5 M150 803 l6 -3 M134 806 q6 4 10 9 M131 800 l6 3" stroke-width="0.9"/>
<path d="M113 797.5 q6 -3 11 -0.500 q-5 4 -11 0.500 z M124 797 l13 -2 M122 799 l10 1.500" stroke-width="1.1"/>
<path d="M131 818.5 Q118 824 105.5 829.5" stroke="#333" stroke-width="1.5" stroke-dasharray="3 1.2"/>
<path d="M136 823.5 Q112 834 85 844.5" stroke="#333" stroke-width="1.5" stroke-dasharray="3 1.2"/>
<path d="M148 830 Q126 852 90.5 858" stroke="#333" stroke-width="1.5" stroke-dasharray="3 1.2"/>
<path d="M222.3 733.7 L226.0 731.0 L226.6 730.6 L227.4 730.4 L228.1 730.3 L228.9 730.5 L229.8 730.7 L230.6 731.1 L231.4 731.7 L232.3 732.4 L233.0 733.3 L233.8 734.2 L234.4 735.3 L235.0 736.4 L235.6 737.6 L236.0 738.9 L236.3 740.1 L236.5 741.4 L236.7 742.6 L236.7 743.8 L236.6 744.9 L236.3 745.9 L236.0 746.9 L235.6 747.7 L235.1 748.4 L234.5 748.9 L230.9 751.5 L230.9 751.5 L230.2 751.9 L229.5 752.1 L228.7 752.2 L227.9 752.1 L227.1 751.8 L226.2 751.4 L225.4 750.8 L224.6 750.1 L223.8 749.3 L223.1 748.3 L222.4 747.2 L221.8 746.1 L221.3 744.9 L220.8 743.7 L220.5 742.4 L220.3 741.2 L220.2 739.9 L220.2 738.8 L220.3 737.6 L220.5 736.6 L220.8 735.7 L221.2 734.9 L221.7 734.2 L222.3 733.7 Z" fill="#fff" />
<ellipse cx="226.6" cy="742.6" rx="5.8" ry="10.0" transform="rotate(-20.0 226.6 742.6)" fill="#fff" />
<ellipse cx="226.9" cy="742.6" rx="1.6" ry="2.6" transform="rotate(-20.0 226.9 742.6)" fill="none" stroke-width="0.900"/>
<ellipse cx="226.8" cy="742.6" rx="3.4" ry="5.8" transform="rotate(-20.0 226.8 742.6)" fill="none" stroke-width="0.7" stroke-dasharray="3 2"/>
<path d="M229 737 l1.500 -1 M230 747 l1.800 -1.200" stroke-width="1.100"/>
<path d="M350.4 646.4 L365.3 635.5 L365.5 635.4 L365.8 635.3 L366.0 635.3 L366.3 635.3 L366.6 635.4 L366.8 635.5 L367.1 635.7 L367.4 635.9 L367.6 636.2 L367.8 636.5 L368.1 636.8 L368.3 637.1 L368.4 637.5 L368.5 637.9 L368.6 638.3 L368.7 638.7 L368.8 639.0 L368.7 639.4 L368.7 639.8 L368.6 640.1 L368.5 640.4 L368.4 640.6 L368.2 640.9 L368.0 641.0 L353.1 651.9 L353.1 651.9 L352.9 652.1 L352.6 652.1 L352.4 652.2 L352.1 652.1 L351.9 652.1 L351.6 651.9 L351.3 651.8 L351.0 651.6 L350.8 651.3 L350.6 651.0 L350.3 650.7 L350.2 650.3 L350.0 650.0 L349.9 649.6 L349.8 649.2 L349.7 648.8 L349.7 648.4 L349.7 648.0 L349.7 647.7 L349.8 647.4 L349.9 647.1 L350.0 646.8 L350.2 646.6 L350.4 646.4 Z" fill="#fff" />
<ellipse cx="351.7" cy="649.2" rx="1.9" ry="3.1" transform="rotate(-20.0 351.7 649.2)" fill="#fff" />
<path d="M353.7 647.8 l7 -5.100" stroke-width="0.7"/>
<path d="M328.7 636.9 L336.4 631.3 L338.2 630.2 L340.2 629.5 L342.3 629.2 L344.5 629.3 L346.7 629.8 L348.9 630.7 L351.1 631.9 L353.3 633.5 L355.3 635.4 L357.2 637.6 L359.0 640.1 L360.5 642.8 L361.8 645.6 L362.9 648.6 L363.7 651.6 L364.2 654.6 L364.4 657.6 L364.3 660.5 L364.0 663.3 L363.3 665.9 L362.4 668.2 L361.2 670.3 L359.8 672.1 L358.2 673.5 L350.5 679.1 L350.5 679.1 L348.7 680.2 L346.7 680.9 L344.6 681.2 L342.5 681.1 L340.2 680.6 L338.0 679.8 L335.8 678.5 L333.6 676.9 L331.6 675.0 L329.7 672.8 L327.9 670.3 L326.4 667.7 L325.1 664.8 L324.0 661.9 L323.2 658.8 L322.7 655.8 L322.5 652.8 L322.6 649.9 L322.9 647.1 L323.6 644.6 L324.5 642.2 L325.7 640.1 L327.1 638.4 L328.7 636.9 Z" fill="#fff" />
<path d="M328.7 636.9 L336.4 631.3" stroke-width="1.1"/>
<path d="M331.3 635.5 L339.0 629.9" stroke-width="1.1"/>
<path d="M334.2 634.9 L341.9 629.3" stroke-width="1.1"/>
<path d="M337.3 635.0 L345.0 629.4" stroke-width="1.1"/>
<path d="M340.5 635.9 L348.1 630.3" stroke-width="1.1"/>
<path d="M343.6 637.6 L351.3 632.0" stroke-width="1.1"/>
<path d="M346.6 640.0 L354.3 634.4" stroke-width="1.1"/>
<path d="M349.3 643.0 L357.0 637.4" stroke-width="1.1"/>
<path d="M351.8 646.5 L359.4 640.9" stroke-width="1.1"/>
<path d="M353.8 650.4 L361.4 644.8" stroke-width="1.1"/>
<path d="M355.3 654.5 L363.0 648.9" stroke-width="1.1"/>
<path d="M356.3 658.8 L364.0 653.2" stroke-width="1.1"/>
<path d="M356.7 663.0 L364.4 657.4" stroke-width="1.1"/>
<path d="M356.6 667.1 L364.2 661.5" stroke-width="1.1"/>
<path d="M355.8 670.9 L363.5 665.3" stroke-width="1.1"/>
<path d="M354.6 674.2 L362.2 668.6" stroke-width="1.1"/>
<path d="M352.8 677.0 L360.4 671.4" stroke-width="1.1"/>
<path d="M350.5 679.1 L358.2 673.5" stroke-width="1.1"/>
<path d="M326.6 637.0 L328.4 635.7 L330.3 634.6 L332.3 633.9 L334.5 633.6 L336.8 633.7 L339.1 634.2 L341.4 635.2 L343.7 636.5 L345.9 638.2 L348.0 640.2 L350.0 642.5 L351.8 645.1 L353.4 648.0 L354.8 650.9 L355.9 654.0 L356.7 657.2 L357.3 660.4 L357.5 663.5 L357.4 666.6 L357.1 669.5 L356.4 672.2 L355.5 674.6 L354.3 676.8 L352.8 678.6 L351.1 680.1 L349.4 681.4 L349.4 681.4 L347.5 682.5 L345.4 683.2 L343.3 683.5 L341.0 683.4 L338.7 682.9 L336.4 681.9 L334.1 680.6 L331.9 678.9 L329.7 676.9 L327.8 674.6 L326.0 672.0 L324.4 669.1 L323.0 666.2 L321.9 663.1 L321.1 659.9 L320.5 656.7 L320.3 653.6 L320.3 650.5 L320.7 647.6 L321.4 644.9 L322.3 642.5 L323.5 640.3 L325.0 638.5 L326.6 637.0 Z" fill="#fff" />
<ellipse cx="338.0" cy="659.2" rx="16.5" ry="25.2" transform="rotate(-20.0 338.0 659.2)" fill="#fff" />
<ellipse cx="338.9" cy="660.0" rx="12.3" ry="18.6" transform="rotate(-20.0 338.9 660.0)" fill="#1e1e1e"/>
<ellipse cx="336.4" cy="656.0" rx="6.8" ry="10.0" transform="rotate(-20.0 336.4 656.0)" fill="#fff" stroke-width="0.9"/>
<ellipse cx="337.4" cy="656.8" rx="3.5" ry="5.4" transform="rotate(-20.0 337.4 656.8)" fill="#fff" stroke-width="1"/>
<path d="M345 668 q2 5 -1 9" stroke="#fff" stroke-width="1"/>
<path d="M281.6 681.9 L323.6 651.3 L324.8 650.6 L326.0 650.1 L327.3 650.0 L328.7 650.0 L330.1 650.4 L331.5 650.9 L332.9 651.7 L334.2 652.7 L335.5 654.0 L336.7 655.4 L337.8 656.9 L338.8 658.6 L339.6 660.4 L340.3 662.3 L340.8 664.2 L341.1 666.1 L341.2 668.0 L341.2 669.9 L341.0 671.6 L340.6 673.2 L340.0 674.7 L339.3 676.0 L338.4 677.1 L337.4 678.0 L295.4 708.7 L295.4 708.7 L294.2 709.4 L293.0 709.8 L291.7 710.0 L290.3 709.9 L288.9 709.6 L287.5 709.0 L286.1 708.2 L284.8 707.2 L283.5 706.0 L282.3 704.6 L281.2 703.0 L280.2 701.3 L279.4 699.5 L278.7 697.7 L278.2 695.7 L277.9 693.8 L277.8 691.9 L277.8 690.1 L278.0 688.3 L278.4 686.7 L279.0 685.2 L279.7 683.9 L280.6 682.8 L281.6 681.9 Z" fill="#fff" />
<path d="M291.8 678.0 L326.6 652.6" stroke-width="2.2" stroke="#222"/>
<path d="M291.0 676.0 L323.3 652.4" stroke-width="0.700"/>
<path d="M298.3 682.5 L333.0 657.1" stroke-width="2.2" stroke="#222"/>
<path d="M297.6 677.8 L329.9 654.3" stroke-width="0.700"/>
<path d="M302.5 690.8 L337.3 665.4" stroke-width="2.2" stroke="#222"/>
<path d="M303.2 684.6 L335.5 661.0" stroke-width="0.700"/>
<path d="M302.9 699.6 L337.7 674.3" stroke-width="2.2" stroke="#222"/>
<path d="M305.7 693.6 L338.0 670.0" stroke-width="0.700"/>
<path d="M280.0 683.1 L283.3 680.7 L284.4 680.1 L285.6 679.6 L286.9 679.4 L288.3 679.5 L289.7 679.8 L291.1 680.4 L292.5 681.2 L293.8 682.2 L295.1 683.4 L296.3 684.8 L297.4 686.4 L298.4 688.1 L299.2 689.9 L299.9 691.8 L300.4 693.7 L300.7 695.6 L300.8 697.5 L300.8 699.3 L300.6 701.1 L300.2 702.7 L299.6 704.2 L298.9 705.5 L298.0 706.6 L297.0 707.5 L293.7 709.9 L293.7 709.9 L292.6 710.5 L291.4 711.0 L290.1 711.2 L288.7 711.1 L287.3 710.8 L285.9 710.2 L284.5 709.4 L283.2 708.4 L281.9 707.2 L280.7 705.8 L279.6 704.2 L278.6 702.5 L277.8 700.7 L277.1 698.8 L276.6 696.9 L276.3 695.0 L276.2 693.1 L276.2 691.3 L276.4 689.5 L276.8 687.9 L277.4 686.4 L278.1 685.1 L279.0 684.0 L280.0 683.1 Z" fill="#fff" />
<ellipse cx="286.9" cy="696.5" rx="10.0" ry="15.2" transform="rotate(-20.0 286.9 696.5)" fill="#fff" />
<circle cx="290.5" cy="693.5" r="0.9" class="k"/>
<path d="M263.6 701.6 L275.7 692.7 L276.3 692.4 L277.0 692.2 L277.7 692.2 L278.4 692.3 L279.2 692.6 L280.0 693.0 L280.8 693.6 L281.5 694.3 L282.2 695.1 L282.9 696.0 L283.6 697.0 L284.1 698.1 L284.6 699.3 L285.0 700.5 L285.3 701.7 L285.5 702.9 L285.7 704.1 L285.7 705.2 L285.6 706.2 L285.4 707.2 L285.1 708.1 L284.7 708.9 L284.3 709.5 L283.7 710.0 L271.6 718.8 L271.6 718.8 L271.0 719.2 L270.4 719.4 L269.6 719.4 L268.9 719.3 L268.1 719.0 L267.3 718.6 L266.6 718.0 L265.8 717.3 L265.1 716.5 L264.4 715.5 L263.8 714.5 L263.2 713.4 L262.7 712.3 L262.3 711.1 L262.0 709.9 L261.8 708.7 L261.7 707.5 L261.6 706.4 L261.7 705.3 L261.9 704.3 L262.2 703.5 L262.6 702.7 L263.0 702.1 L263.6 701.6 Z" fill="#fff" />
<ellipse cx="267.6" cy="710.2" rx="5.3" ry="9.6" transform="rotate(-20.0 267.6 710.2)" fill="#fff" />
<path d="M265.9 701.0 L274.8 694.6" stroke-width="1.200"/>
<path d="M268.5 702.3 L277.4 695.8" stroke-width="1.200"/>
<path d="M271.0 705.2 L279.9 698.7" stroke-width="1.200"/>
<path d="M272.8 709.0 L281.7 702.5" stroke-width="1.200"/>
<path d="M273.6 713.1 L282.4 706.6" stroke-width="1.200"/>
<path d="M273.1 716.6 L282.0 710.1" stroke-width="1.200"/>
<ellipse cx="267.6" cy="710.2" rx="2.8" ry="5.0" transform="rotate(-20.0 267.6 710.2)" fill="#fff" stroke-width="0.900"/>
<path d="M258.2 714.3 L265.5 709.0 L265.6 708.9 L265.8 708.9 L266.0 708.9 L266.2 708.9 L266.4 709.0 L266.5 709.1 L266.7 709.2 L266.9 709.4 L267.1 709.6 L267.3 709.8 L267.4 710.0 L267.5 710.3 L267.7 710.6 L267.8 710.9 L267.8 711.2 L267.9 711.4 L267.9 711.7 L267.9 712.0 L267.9 712.3 L267.9 712.5 L267.8 712.7 L267.7 712.9 L267.6 713.0 L267.4 713.2 L260.2 718.5 L260.2 718.5 L260.0 718.5 L259.9 718.6 L259.7 718.6 L259.5 718.6 L259.3 718.5 L259.1 718.4 L258.9 718.3 L258.8 718.1 L258.6 717.9 L258.4 717.7 L258.3 717.4 L258.1 717.2 L258.0 716.9 L257.9 716.6 L257.8 716.3 L257.8 716.1 L257.8 715.8 L257.7 715.5 L257.8 715.2 L257.8 715.0 L257.9 714.8 L258.0 714.6 L258.1 714.5 L258.2 714.3 Z" fill="#fff" />
<ellipse cx="259.2" cy="716.4" rx="1.3" ry="2.3" transform="rotate(-20.0 259.2 716.4)" fill="#fff" />
<path d="M249 722.500 l3 4.500" stroke-width="1"/>
<path d="M370.5 633 l3.500 5" stroke-width="1"/>
<path d="M388.6 609.4 L395.5 604.4 L396.2 604.0 L397.0 603.8 L397.8 603.7 L398.7 603.8 L399.6 604.1 L400.5 604.5 L401.4 605.1 L402.3 605.9 L403.1 606.8 L403.9 607.8 L404.6 608.9 L405.3 610.1 L405.8 611.3 L406.3 612.7 L406.6 614.0 L406.9 615.3 L407.0 616.6 L407.0 617.9 L406.9 619.1 L406.6 620.2 L406.3 621.2 L405.8 622.0 L405.3 622.8 L404.6 623.3 L397.8 628.4 L397.8 628.4 L397.1 628.8 L396.3 629.0 L395.4 629.1 L394.6 629.0 L393.7 628.7 L392.7 628.3 L391.8 627.7 L391.0 626.9 L390.1 626.0 L389.3 625.0 L388.6 623.9 L388.0 622.7 L387.4 621.4 L387.0 620.1 L386.6 618.8 L386.4 617.5 L386.3 616.2 L386.3 614.9 L386.4 613.7 L386.6 612.6 L387.0 611.6 L387.4 610.8 L388.0 610.0 L388.6 609.4 Z" fill="#fff" />
<ellipse cx="393.2" cy="618.9" rx="6.3" ry="10.6" transform="rotate(-20.0 393.2 618.9)" fill="#fff" />
<ellipse cx="393.5" cy="618.9" rx="1.8" ry="3.0" transform="rotate(-20.0 393.5 618.9)" fill="#fff" stroke-width="1"/>
<path d="M389 615 l3 1.500 M392 625 l4 -1 M402 622 l3 -2.500 l0 3" stroke-width="0.9"/>
<line class="ax" x1="386" y1="624" x2="397" y2="616"/>
<path class="pw" d="M413.5 551.7 L417.2 549.5 L452.6 564.2 L454.8 568.7 L454.1 576 L449.600 579 L450.4 595.2 L454.8 596.7 L455.5 608.5 L442.3 612.9 L416.5 602.6 L416.5 574.6 L413.5 573.1 Z"/>
<path d="M413.5 551.7 L449 566.5 L452.600 564.200 M449 566.5 L449.5 579 M414.5 555.5 L445.5 568.5 L445.5 580.300 M416.500 558 L439.5 567.8 M413.5 573.1 L413.6 556 M416.5 574.6 L442.3 585 L449.600 579 M442.3 585 L442.3 612.9 M436 566.5 L436.200 582.3 M436.200 571 L445.5 574.800" stroke-width="1.1"/>
<path d="M417.5 576.5 L441.3 586.2 L441.3 611 L417.5 601.5 Z" fill="#2b2b2b" stroke="none"/>
<ellipse cx="429.8" cy="593.6" rx="9.6" ry="11" transform="rotate(22 429.8 593.6)" fill="#fff" stroke="none"/>
<path d="M421 587 q8 -4 15 3 q4 6 3 14 M423.500 596 q4 -8 12 -6 M425 603 l11 -12 M428 605.500 l10 -10 M421 592 l8 8 M426 584 l10 12" stroke-width="1"/>
<path d="M450.4 595.2 L446.500 597 L446.500 609.500 M446.500 597 L450.500 598.600 L450.500 610 M450.500 598.600 L454.800 596.700" stroke-width="1"/>
<circle cx="441.6" cy="617.5" r="0.8" class="k"/>
<path d="M396.8 500.3 L396.8 516.5 L426.3 530.5 L426.3 552" class="ax" stroke-width="1.3"/>
<path class="pw" d="M391.6 479.6 L407.1 481.9 L407.1 503.2 L389.4 501 L389.4 488.5 L391.6 487.8 Z" />
<path d="M405.3 483 L405.3 502" stroke-dasharray="2.5 2" stroke-width="0.9"/>
<circle cx="399" cy="484.8" r="1.3" fill="#fff"/><circle cx="398.3" cy="495.9" r="1.600" fill="#fff" stroke-width="1.400"/>
<path d="M396.5 497 l1 4" stroke-width="1.5"/>
<path class="pw" d="M379.5 434.7 L390.9 423.6 L417.4 439.8 L417.600 443 L405.500 453.800 L380.5 438.5 Z"/>
<path d="M379.5 434.7 L404.9 450.9 L417.4 439.8 M404.900 450.900 L405.500 453.800" stroke-width="1.1"/>
<path d="M384 432.5 L392.500 425.500 M388 435.500 L397 427.500 M392.500 438.500 L401.500 430.500 M397 441.500 L406 433.500 M401.500 444.500 L410.500 436.500 M406 447 L414.500 439.500" stroke-width="1.600"/>
<path d="M386 429 L410 444 M389.500 426.500 L413.500 441.500 M382.500 433 L406.500 448" stroke-width="0.900"/>
</g>
<!-- 40_leftsmall.svg -->
<g id="leftsmall" class="p">
<!-- axis 3-4-5 -->
<path class="ax" stroke-width="1.2" stroke-dasharray="5 2.500" d="M158.4 176.7V184.6M161 196.4L162.9 214.1M165.9 238.7L167.8 260.3M170.8 285.9L173.2 313.4"/>
<!-- 3 nut -->
<path class="pw" d="M152.7 187.5L158 184.6L165.5 187.5L165.5 191.5L160 195.4L153.1 192.1Z"/>
<path d="M152.7 187.5L159.800 190.800L165.5 187.5M159.800 190.800L160 195.4M155 186.800L161 189.600M156.500 188L156.500 191" stroke-width="1"/>
<ellipse cx="159.300" cy="187.600" rx="2.300" ry="1.200" stroke-width="1.300"/>
<!-- 4 -->
<path class="pw" d="M159 218V231.500L160.500 232.500V237.500Q164 239.200 166.900 237.500V222.500L166 221.500V218Z"/>
<ellipse class="pw" cx="162.300" cy="217.800" rx="3.900" ry="1.800"/>
<path d="M159.500 221.500H165.500M159.500 223.500H165.500M159.500 225.500H165.500M159.500 227.500H165.500M159.500 229.500H165.500" stroke-width="1.500"/>
<path d="M162.500 232.500V237.800M160.500 232.500Q163.500 234 166.900 232.500" stroke-width="0.900"/>
<!-- 5 box -->
<path class="pw" d="M158.600 264.200L167.800 260.300L176.700 264.200L176.700 279L167.800 284.300L158.600 280Z"/>
<path d="M158.600 264.200L167.800 268.200L176.700 264.200M167.800 268.200L167.800 284.300" />
<path d="M165 262.500L169.500 264.500M166.500 261.500L166.500 266.500M170 263L170 267M161 276.500L164.500 278L164.500 281M161.500 278.500L163.500 279.500" stroke-width="1.300"/>
<!-- 2 lever -->
<path d="M212.700 192.400V237" stroke="#333" stroke-width="1.100" stroke-dasharray="2 2.200"/>
<path class="ax" stroke-width="1" stroke-dasharray="6 2.500" d="M214 248.500L214 260.300L183.600 281.900L183.600 293.700"/>
<path class="pw" d="M207.200 244.300L194.800 249.300L194.400 253.800L198.500 255.400L201.300 253.500L201.600 250.800L209 247.500Z"/>
<path d="M198 248.500L207.500 246.500M198.500 251.500L198.500 255" stroke-width="0.900"/>
<path d="M207.500 238.300h10.300v7.800h-10.300z" fill="#333"/>
<path d="M208.500 240.500h8.500M208.500 243.500h8.500" stroke="#fff" stroke-width="0.900"/>
<path d="M206.500 241.500L219 240.500M207 246.800L218.500 245.800" stroke-width="1.200"/>
<path d="M180.200 240.800l0.300 2M284.900 308.600l0.200 2.200" stroke-width="1.200"/>
<!-- second set (near handle) -->
<path class="ax" stroke-width="1" stroke-dasharray="6 2.500" d="M184.600 393L185.500 417.800L212.900 399.200M178.400 433.700L190.800 426.600L192.200 440.800M120 468.200L139.500 462"/>
<path class="ax" stroke-width="1" stroke-dasharray="5 2.500" d="M218.200 431.100L220 451.400M222.700 476.200L225.300 497.400M226.200 508L226.200 513.400"/>
<!-- block -->
<path class="pw" d="M208 411.600L215.600 407.200L225.300 410.700L226.200 425.800L216.500 430.200L208 426.600Z"/>
<path d="M208 411.600L216.500 415.100L225.300 410.700M216.500 415.100L216.500 430.200"/>
<path d="M212 409.800L219.500 412.800M214.500 408.800L214.500 413.500M218 410.500L218 414M210 418.500L213.500 420L213.500 425.500M210.300 422.500L213 423.500" stroke-width="1.300"/>
<!-- spring plunger -->
<path class="pw" d="M217.200 454Q217.200 452.300 219 452.300H224Q225.800 452.300 225.800 454V472.500Q221.500 475.500 217.200 472.500Z"/>
<path d="M219.500 454.500V463.500M223.500 454V463" stroke-width="0.900"/>
<path d="M218 464.500H225M218 466.500H225M218 468.500H225M218 470.500H225" stroke-width="1.600"/>
<ellipse class="pw" cx="222" cy="473" rx="4.500" ry="1.900"/>
<!-- nut -->
<path class="pw" d="M219.100 502L225.500 498.300L232.400 501.300L232.400 503.500L226 507.200L219.100 504.200Z" stroke-width="1.300"/>
<path d="M219.100 502L226 505L232.400 501.300M226 505V507.200" stroke-width="1"/>
<ellipse cx="225.800" cy="501.600" rx="2.600" ry="1.300" stroke-width="1.500"/>
<!-- lever copy -->
<path class="pw" d="M190.500 450.500L177 457.500L176.600 462L180.500 463.800L183.700 462L184 459.500L193 453.500Z"/>
<path d="M180.500 459.500L180.500 463.500M181 457L190 452.500" stroke-width="0.900"/>
<ellipse cx="194.300" cy="447.400" rx="4.500" ry="4" fill="#333"/>
<path d="M191 445.500q3.300-1.500 6.500 0M191 448.500q3.300 1.500 6.500 0" stroke="#fff" stroke-width="0.800"/>
<path d="M189 446q1-5 6-4.500q4.500 1 4.500 5" stroke-width="1"/>
<!-- washer below handle -->
<ellipse class="pw" cx="153.600" cy="521.400" rx="9.700" ry="5.200"/>
<ellipse class="pw" cx="153.600" cy="519.800" rx="9.700" ry="5.200"/>
<ellipse cx="153.800" cy="519.600" rx="5.200" ry="2.500"/>
<path d="M153.800 512V517" class="ax" stroke-width="1.200"/>
</g>
<!-- 41_left2.svg -->
<g id="left2" class="p">
<!-- switch 1 -->
<line class="ld" x1="307.8" y1="374.3" x2="307.8" y2="411"/>
<path class="pw" d="M293 412.700L309.200 409L315.700 403L323.300 397.100L326.500 398.700L324.400 404.100L315.700 411.700L301 415Z"/>
<path d="M299 412.500L312 409.500L319.500 402.500L324 399.500M296 415.500L301 415" stroke-width="0.900"/>
<path class="pw" d="M296.800 417.100L300.600 414.900L314.600 412.700Q310.500 419 309.200 425.700L304.900 447.400L299 449.500L296.200 449Z"/>
<path d="M300.600 414.900L300.300 449M309.200 425.700Q306.500 436 304.900 447.400" stroke-width="0.900" stroke-dasharray="5 2"/>
<path class="pw" d="M270.800 414.900L287.600 412.200L296.800 417.100L296.200 427.900L279.500 430.600L265.400 427.300L268.100 419.500Z"/>
<path d="M270.800 414.900L279.500 420.300L296.800 417.100M279.500 420.300L279.500 430.600" stroke-dasharray="7 2"/>
<path class="pw" d="M265.400 427.300L279.500 430.600L296.200 427.900L296.200 449L292.500 450.100L291.900 453.800L275.700 457.100L263.300 452.800L262.200 450.100Z" stroke-width="1.300"/>
<path d="M279.500 430.600L277.500 456.500M292.500 430L292.500 450.100" stroke-dasharray="5 3"/>
<path d="M265.400 427.300L279.500 430.600L296.200 427.900" stroke-width="1.700"/>
<!-- capacitor 7 + wires -->
<path d="M41.700 344.700L52.600 346L48.100 355.600L57.100 353.600L57.100 363.900L64.100 358.800L66.700 364.500L71.100 361.300L83.900 369.600Q87.500 374 88.400 381.100L89 401.600L87.800 442.500" stroke-width="1.500"/>
<path d="M42 343l1.500 4M46 345.500l3-1" stroke-width="1.200"/>
<path d="M88.500 383L89.200 400" stroke-width="3"/>
<path d="M83.300 415.600L81.400 443.800M96.700 410.500L95.400 439.900" stroke-width="1.500"/>
<circle cx="74" cy="371.500" r="0.900" class="k"/>
<path class="pw" d="M76.500 446L79.500 443.500L96.500 441.200L98 443L98 457L93 459.500L83 461.700L78.500 461L76.200 458.500Z" stroke-width="1.300"/>
<path d="M76.500 446L83 447.500L98 443M83 447.500L83 461.700M79.500 447L79.500 460.500" stroke-width="1"/>
<line class="ld" x1="53.900" y1="477.100" x2="76.900" y2="455.300"/>
<path class="ax" stroke-width="1.300" d="M86.500 462L85.800 481.500L138.900 462.400"/>
<!-- 8 clamp -->
<path class="pw" d="M73 503.500L82.500 500.300L90 503L90.300 507L87 509.500L83.500 515L76 515.400Q69.500 514 70 509Q70.500 505 73 503.500Z" stroke-width="1.300"/>
<ellipse cx="76" cy="509.300" rx="3.600" ry="3" />
<path d="M79.500 504.500L86 502.500M80 508L84.500 514M84 505.500l4 3M82.500 509.500l5-.5" stroke-width="1.200"/>
<path class="ax" stroke-width="1.400" stroke-dasharray="5 2.500" d="M90.300 507.800L107 515.400M89 515.400L99.300 520"/>
<line class="ld" x1="41.100" y1="541.600" x2="71.100" y2="511.600"/>
<!-- 9 screws -->
<path class="pw" d="M108.200 515.400L121.500 517.500L123.500 520L122.500 524.400L119 524L118 521.500L107 519.500Z" stroke-width="1.200"/>
<path d="M112 516.500l8 4M116 516.800l1 4" stroke-width="0.900"/>
<path class="pw" d="M96.700 518.600L106 522.500Q109.500 521.500 111.500 523.500Q112.500 526 110.500 527.500Q108 528.500 105.500 526.500L97.500 521Z" stroke-width="1.300"/>
<path d="M99 520l2 1.500M101.500 521l2 1.500M104 522.500l2 1.500" stroke-width="1.300"/>
<ellipse cx="108.800" cy="525" rx="2.300" ry="2.600"/>
<line class="ld" x1="81.400" y1="550.600" x2="106.900" y2="525.600"/>
<line class="ld" x1="108.800" y1="556.300" x2="118.400" y2="524.400"/>
<!-- 10 sleeve -->
<path class="pw" d="M146.400 528.300L144.700 570.400Q150 574.500 155.300 570.400L153.700 528.300Z" stroke-dasharray="14 2"/>
<path d="M144.700 569.400Q150 573.500 155.300 569.400" stroke-width="1.800"/>
<path d="M148.800 528L148 566M151.500 528.500L151.700 566" stroke-dasharray="6 3" stroke-width="1"/>
<path d="M158.200 534.200Q166 535 170 541.600Q171.500 548 168.500 553.400Q165 559 159.600 560.800L155.500 562M158.500 538.500Q164 540.500 166.500 545Q167 551 163 555L156 559M159 543.500q4 2 5 6M157 548l8-2M157.500 553.500l7-1.500M162.500 536l-1.500 7M168 545l-5 3" stroke-width="1.200"/>
<line class="ld" x1="107.300" y1="599.900" x2="145.600" y2="560.800"/>
<path class="ax" stroke-width="1.500" stroke-dasharray="4 2 1.500 2" d="M148.100 577L148.100 595.500"/>
<!-- 11 plug -->
<path d="M146.900 606.400V622.500M138.600 623.600H152M140.500 622l3-7.500M143.500 611.500q3-2 5 0q-2 2.500-5 0M142.400 629.400L142.800 637M146.200 629.400L146.600 637" stroke-width="1.300"/>
<path class="pw" d="M137.500 640.500L136.600 651.500L135.800 660Q141 664 151.300 660.500L150.600 651L151.100 640.500Z" stroke-dasharray="9 2"/>
<ellipse class="pw" cx="144.300" cy="639.800" rx="6.900" ry="2.800"/>
<ellipse cx="144.500" cy="639.600" rx="2.200" ry="0.900" stroke-width="1.500"/>
<path d="M136.800 647.500Q143.500 651 150.800 647.500M136.300 654.500Q143.500 658 151 654.500" stroke-width="1.300"/>
<path class="pw" d="M132.200 665.200L127.100 681.800L123.900 675.400L123.900 688.200L133.500 692L150.100 690.800L156.500 685.600L156.500 679.300L151.400 665.200Z" stroke-dasharray="10 2"/>
<ellipse class="pw" cx="141.800" cy="662.600" rx="9.600" ry="3.800"/>
<path d="M132.500 664Q141 668.500 151.300 664" stroke-width="1.200"/>
<path d="M124 683.200L133.500 686.500L138.500 682.300L150 682L156.500 679.300M133.500 686.500L133.500 692M138.500 682.300L138.800 691.500M150 682L150.100 690.800M127.100 681.800L124 683.200" stroke-width="1.300"/>
<path d="M141.500 668v12" stroke-dasharray="1.500 3" stroke-width="1.300"/>
<path d="M142.500 680.500Q147 676 153.500 677.500" stroke-width="1.200"/>
<path d="M131.600 692.700V703.500Q133.400 706.500 135.400 703.500V692.700M141.100 691.500V697.500H146.900V691M137.900 708.700V712.500" stroke-width="1.200" stroke-dasharray="6 1.500"/>
</g>
<!-- 50_housing6.svg -->
<g id="housing6L" class="p" transform="translate(140 235) scale(0.15733)" stroke-width="1">
<!-- outer rim left part -->
<path d="M68 690C58 660 60 625 78 598L105 566L191 477"/>
<path d="M110 642L220 538M128 668L240 562"/>
<path d="M68 690L95 715L128 668M110 642Q96 668 95 715"/>
<!-- left cluster -->
<path d="M128 668L150 640L240 640L245 720L160 730L128 700M160 730L165 820L245 800L245 720M150 640L200 600L280 600L290 650L240 640M290 650L300 730L245 720"/>
<path d="M120 720L120 820L165 850L165 820M120 820L100 900L110 960L160 980L240 960L245 900L300 880L310 820L300 730"/>
<path d="M165 850L170 900L245 900M170 900L150 940M200 860L205 960M240 830L300 810M260 850L265 920L310 900"/>
<path d="M170 660l40 25l-5 35M185 700l40 15M140 760l60-20l10 50M180 770l-5 45M130 640l50-45M210 610l10 40M255 610l8 45" stroke-width="1.4"/>
<path d="M270 860L320 845L325 905L275 920ZM205 1000L215 1020M250 1000L250 1017M100 900L80 960L60 1017" />
<path d="M140 880l50 20l50-15M125 930l60 25M190 920l45-10M175 745l50 0M150 790l40 10" stroke-width="1.300"/>
<path d="M165 690l50-8l0 28l-50 8zM180 775l40-8l0 24l-40 8z" fill="#444" stroke="none"/>
<!-- left edge going down (dashed look) -->
<path d="M68 690L60 780L48 900L40 1017" stroke-dasharray="30 8 6 8"/>
<path d="M95 715L85 800L75 900L66 1017" stroke-dasharray="24 8"/>
<path d="M925 465l3 10M250 45l2 8" stroke-width="1.200"/>
</g>
<g id="housing6R" class="p" transform="translate(170 250) scale(0.12783)" stroke-width="1.05">
<!-- rim -->
<path d="M0 470L440 135Q530 125 538 200L535 240M440 135L520 90L640 30L700 5"/>
<path d="M30 545L130 465L440 225L520 180"/>
<path d="M50 600L140 520L300 395L440 290L505 250"/>
<!-- top right block -->
<path d="M640 30L790 40L800 95L690 140L660 180L560 200M520 90L560 130L660 85L640 30M660 85L690 140M560 130L565 195M790 40L830 20L880 5L915 20L920 70L900 100L860 110L800 95M830 20L835 75L860 110"/>
<path d="M575 110L650 75M585 150L655 118M600 100l5 60M700 60l70 5M705 95l70-5M740 50l5 55" stroke-width="1.500"/>
<path d="M870 15l40 12l0 50l-40 10z" fill="#444" stroke="none"/>
<!-- boss -->
<ellipse cx="880" cy="185" rx="62" ry="56" transform="rotate(-25 880 185)" stroke-dasharray="6 3" stroke-width="2"/>
<ellipse cx="878" cy="186" rx="42" ry="37" transform="rotate(-25 878 186)"/>
<ellipse cx="878" cy="186" rx="24" ry="20" transform="rotate(-25 878 186)" stroke-width="1.500"/>
<path d="M850 170l55 35M855 195l40 25M870 155l45 28" stroke-width="1"/>
<path d="M800 95Q750 130 765 190Q785 240 830 262M790 140Q775 175 800 215Q815 240 845 250"/>
<!-- right side -->
<path d="M830 262L835 300L840 400L800 470L720 540L700 600M835 300L900 270L942 232M840 400L745 440L740 505M745 440L745 340L762 288M745 340L838 372M800 470l-55-30" />
<!-- lower edge -->
<path d="M700 600L560 720L400 840L270 940L160 1040L75 1115" stroke-width="1.700"/>
<path d="M690 572L560 692L400 812L280 902L150 1010L100 1060" stroke-width="1.3"/>
<!-- arc R1 -->
<path d="M540 240L545 330Q552 400 590 460Q630 520 700 560" stroke-width="1.800"/>
<path d="M600 230L610 320Q620 400 665 465Q690 500 722 520" stroke-width="1.600"/>
<path d="M650 230L670 290L740 340M690 250L700 300L745 340M560 200L600 230L650 230L690 250" />
<path d="M500 390Q500 470 550 550Q575 585 612 600M530 380Q535 460 580 530Q605 565 642 580M560 370Q570 440 620 510Q645 540 682 560" stroke-width="1.500"/>
<path d="M500 390L530 380L560 370L545 330" />
<!-- arc R2 -->
<path d="M372 410Q330 480 342 570Q360 690 420 760Q450 790 482 786L552 740L602 680" stroke-width="1.800"/>
<path d="M460 360L468 470Q476 560 560 640L602 650" stroke-width="1.600"/>
<path d="M410 400Q385 470 395 560Q410 660 470 730" />
<path d="M372 410L410 400L460 360L450 300M440 225L445 290M505 250L510 380" />
<path d="M440 665Q470 640 530 700Q545 725 530 738Q480 720 440 665ZM455 668l70 62" stroke-width="1.500"/>
<!-- arc R3 -->
<path d="M200 560Q180 660 222 770Q250 830 332 882" stroke-width="1.800"/>
<path d="M240 530Q225 640 262 740Q290 800 372 852" stroke-width="1.500"/>
<path d="M200 560L240 530L300 440M180 850Q230 840 320 885Q300 910 262 900Q215 890 180 850ZM200 858l100 40" stroke-width="1.400"/>
<!-- floor lines -->
<path d="M240 640L340 570M250 720L345 650M270 800L370 730M470 470L540 420M480 560L560 500M60 700L190 610M70 790L195 700M90 880L215 790" />
<!-- partitions -->
<path d="M130 465L140 520M200 410L215 500L300 440L300 395M215 500L140 560M320 330L330 400M210 425L290 382L300 440L222 488ZM330 335L420 270L432 320L345 385Z"/>
<path d="M140 520L60 585L50 600" />
<path d="M100 560l12 60l75-55M150 470l10 50M250 395l8 45M160 525l60-45M385 290l8 50M470 215l10 60l60-40M300 395l-8-40M420 270l-6-35" stroke-width="1.500"/>
<path d="M60 600l30 40l-5 60M20 640l45 30M0 600l50 0M10 700l60-10M30 760l50-15" stroke-width="1.400"/>
<path d="M896 455l4 12M300 150l-4 10" stroke-width="1.200"/>
</g>
<!-- 51_handle6.svg -->
<g id="handle6" class="p" transform="translate(120 370) scale(0.17699)" stroke-width="1">
<path d="M172 0L160 100L140 250L125 400L115 550L112 680L120 735" stroke-dasharray="34 7 7 7" stroke-width="1.4"/>
<path d="M202 100L186 250L166 400L152 560L146 690" stroke-dasharray="26 8" stroke-width="1.3"/>
<path d="M332 130L312 300L292 450L277 600L272 660" stroke-dasharray="40 8" stroke-width="1.4"/>
<path d="M286 150L266 300L251 430" stroke-dasharray="30 7"/><path d="M248 150L236 300L228 400M262 150L250 300L240 420" stroke-dasharray="16 6" stroke-width="1.600"/>
<!-- top cluster join -->
<path d="M200 0L215 60L250 120L330 130L345 105L300 40L290 0M215 60L290 50L300 40M250 120L262 140L318 145L330 130M230 20l50 10M225 75l70 10M180 90l60 40"/>
<path d="M330 130L470 60L500 20M345 105L440 55" />
<!-- small blocks along left -->
<path d="M170 170l30 8l-4 40l-30-8zM160 260l30 6M150 330l28 6M182 200l-6 40" stroke-width="1.4"/>
<path d="M188 110l26 8l-3 26l-26-8zM176 200l24 7l-3 24l-24-7zM166 285l24 6l-3 24l-24-6zM196 150l-8 40M184 240l-6 36" stroke-width="1.3"/>
<!-- arch -->
<path d="M176 425L180 352Q210 318 242 352L242 425M196 420L198 362Q212 345 226 362L226 420"/>
<path d="M200 425L270 425L270 468L215 472L200 455ZM215 472L215 440L270 440"/>
<path d="M150 430L176 425M145 470L200 455" />
<!-- mid details -->
<path d="M135 480L185 500L230 585M140 520L200 545M185 500L190 560M128 560L175 580L215 570M150 600l40 20M110 520L135 480"/>
<path d="M255 450L250 560L262 640M235 470L228 590" stroke-dasharray="22 7"/>
<!-- bottom cluster -->
<ellipse cx="215" cy="682" rx="62" ry="34" transform="rotate(-12 215 682)"/>
<ellipse cx="215" cy="682" rx="40" ry="20" transform="rotate(-12 215 682)"/>
<path d="M120 735L150 760L200 770L245 745L280 700L285 660L272 660M150 700L150 760M175 715L178 768M200 720L200 770M225 715L228 755M130 690L160 650L200 640"/>
<path d="M190 675l45-12M195 695l45-14M160 735l70 5" stroke-width="1.5"/>
</g>
<!-- 60_housing31.svg -->
<g id="h31a" class="p" transform="translate(680 460) scale(0.17699)" stroke-width="1">
<!-- screw axes -->
<path class="ax" stroke-width="1.300" stroke-dasharray="8 3 2 3" d="M842 266L1370 493M752 480L1130 640M432 782L832 946M342 886L790 1076M110 650L200 690"/>
<!-- main silhouette -->
<path d="M55 600L500 215L560 240L600 225L585 185L600 160L680 120L740 140L800 220L830 310L830 420L800 480L720 560L700 590L430 780L340 850L300 880" stroke-dasharray="60 6 10 6"/>
<path d="M55 600Q45 620 60 635Q120 632 180 610Q220 590 250 560L540 350Q565 345 578 370Q585 405 560 440L330 610L225 700" />
<path d="M60 635L70 660" />
<!-- notch + top block -->
<path d="M585 185L640 205L660 240L600 225M640 205L700 165L680 120M600 160L640 205M590 200l30 15l20-10M600 215l25 10" />
<path d="M700 165Q760 200 800 290Q815 340 810 420" stroke-width="0.9" stroke-dasharray="30 8"/>
<!-- collar -->
<path d="M730 130L790 95Q830 105 850 150Q872 200 870 240L840 290M740 140Q780 170 800 220Q825 265 828 300L840 290L850 262" />
<path d="M745 135Q790 170 812 230Q822 265 826 296" stroke-width="2.600"/>
<circle cx="805" cy="145" r="10"/>
<circle cx="595" cy="325" r="11"/>
<!-- label plate -->
<path d="M385 620L600 460L650 580L430 740Z"/>
<!-- left vent hatch -->
<path d="M215 720L330 650M212 742L345 662M215 762L355 680M222 780L365 698M232 798L370 716M245 812L375 736M258 826L378 756M215 720Q205 770 235 815L258 830M330 650L360 690L380 760" stroke-width="1.300"/>
<path d="M225 700L215 720M240 830L300 860L350 840Q362 860 350 875Q335 895 300 880M255 850l20 12" />
<!-- right vent strip -->
<path d="M665 310L705 300L745 470L712 550L690 470ZM668 330l38-10M672 352l38-12M676 374l40-12M681 396l40-12M685 418l42-12M689 440l44-14M693 462l44-14M698 486l40-14M704 510l30-12M670 318l36 170M690 310l40 180" stroke-width="1.200"/>
<path d="M745 470L760 480L830 420" />
<circle cx="760" cy="377" r="3" class="k"/>
<!-- cable & handle top -->
<path d="M350 840Q340 870 330 880L230 920Q200 940 190 970L180 1017M300 880L245 905Q215 925 205 960L198 1017" />
<path d="M65 660L50 760L35 880L20 980" stroke-dasharray="34 8 8 8" stroke-width="1.300"/>
<path d="M140 655q12-8 20 2q-8 10-20-2" stroke-width="1.300"/>
</g>
<g id="h31b" class="p" transform="translate(660 600) scale(0.17699)" stroke-width="1">
<path class="ax" stroke-width="1.300" stroke-dasharray="8 3 2 3" d="M130 520L945 860M300 740L850 965"/>
<path d="M165 0L130 180L100 400L95 750" stroke-dasharray="36 8 8 8" stroke-width="1.300"/>
<path d="M95 755L300 740M140 765L150 778L195 775L198 760M235 715L300 740L260 690M240 720l40 25" />
<path d="M330 130Q300 160 295 200L280 320L265 430L250 520L250 700" stroke-dasharray="40 7"/>
<path d="M320 190L315 290L290 400L262 430" />
<ellipse cx="172" cy="540" rx="12" ry="9" stroke-width="1.300"/>
</g>
<g id="screws32" class="p" stroke-width="1">
<!-- upper right four (native coords) -->
<g id="s1"><path class="pw" d="M905.800 520.200L915.500 524.300L917.500 528L914.500 529.500L906.500 524.200Z"/><ellipse class="pw" cx="917.800" cy="527" rx="2.600" ry="3.100"/><path d="M908 522.500l6 3" stroke-width="0.800"/></g>
<g id="s2"><path d="M911 540.500l9 4M911 542.500l8 4M913 540.200l0 3.500M915.500 541.500v3.500M918 542.500v3.500" stroke-width="1.200"/><ellipse class="pw" cx="921.900" cy="545.400" rx="2.800" ry="3.300" stroke-width="1.400"/></g>
<g id="s3"><path class="pw" d="M853 546.300L868.500 551.300L870 555.500L866.500 556.500L855 548.800Z"/><path d="M857 548.500l9 4" stroke-width="0.800"/><path class="pw" d="M868.200 550.800h4.800v5.400h-4.800z" stroke-width="1.300"/></g>
<g id="s4"><path d="M866 566.500l14 5.500M866.500 569l12.500 5.500M869 567v3.500M871.500 568v3.500M874 569v3.500M876.500 570v3.500" stroke-width="1.300"/><ellipse class="pw" cx="882.600" cy="574.300" rx="2.700" ry="3.400" stroke-width="1.400"/></g>
<g id="s5"><path d="M815 623.500l8 3.300M815.500 626l7 3M818 624.500v3" stroke-width="1.200"/><ellipse class="pw" cx="825.300" cy="628.400" rx="2.500" ry="2.900" stroke-width="1.400"/></g>
<g id="s6"><path d="M808 647l14 5.500M808.500 649.500l12.500 5.500M811 648v3.500M813.500 649v3.500M816 650v3.500M818.500 651v3.500" stroke-width="1.300"/><ellipse class="pw" cx="824.900" cy="655.200" rx="2.500" ry="3" stroke-width="1.400"/></g>
<g id="s7"><path d="M814.500 747.500l9 3.700M815 750l8 3.500M818 749v3" stroke-width="1.200"/><ellipse class="pw" cx="826.200" cy="753.300" rx="2.700" ry="3" stroke-width="1.300"/></g>
<g id="s8"><path class="pw" d="M797 766.500l9 3.500l0 4l-2.500 .5l-6.500 -4.500z"/><ellipse class="pw" cx="808.300" cy="772.500" rx="2.800" ry="3" stroke-width="1.300"/></g>
</g>
<!-- 90_labels.svg -->
<g id="leaders" class="ld">
<line x1="122.2" y1="188.1" x2="153.1" y2="188.1"/>
<line x1="122.2" y1="229.8" x2="160.0" y2="229.8"/>
<line x1="122.2" y1="269.5" x2="159.0" y2="269.5"/>
<line x1="246.5" y1="208.2" x2="216.0" y2="239.6"/>
<line x1="105.9" y1="334.0" x2="159.0" y2="334.0"/>
<line x1="286.9" y1="740.5" x2="286.9" y2="774.0"/>
<line x1="316.4" y1="587.0" x2="316.4" y2="632.0"/>
<line x1="168.2" y1="720.5" x2="168.2" y2="752.2"/>
<line x1="228.4" y1="698.7" x2="228.4" y2="730.5"/>
<line x1="95.3" y1="718.8" x2="125.4" y2="688.7"/>
<line x1="525.5" y1="241.3" x2="484.0" y2="209.9"/>
<line x1="524.8" y1="282.6" x2="496.4" y2="262.9"/>
<line x1="525.0" y1="352.1" x2="488.8" y2="324.5"/>
<line x1="525.0" y1="405.8" x2="485.4" y2="375.0"/>
<line x1="524.6" y1="435.2" x2="489.5" y2="408.1"/>
<line x1="411.9" y1="292.2" x2="452.0" y2="323.3"/>
<line x1="655.9" y1="349.1" x2="655.9" y2="387.5"/>
<line x1="625.2" y1="377.5" x2="625.2" y2="421.0"/>
<line x1="583.4" y1="389.2" x2="583.4" y2="429.3"/>
<line x1="528.9" y1="463.5" x2="528.9" y2="495.3"/>
<line x1="496.8" y1="481.9" x2="496.8" y2="517.0"/>
<line x1="441.3" y1="509.7" x2="441.3" y2="558.8"/>
<line x1="351.7" y1="495.0" x2="390.2" y2="495.0"/>
<line x1="395.2" y1="565.5" x2="395.2" y2="607.3"/>
<line x1="560.7" y1="430.1" x2="560.7" y2="468.5"/>
<line x1="340.0" y1="433.4" x2="380.1" y2="433.4"/>
<line x1="360.0" y1="685.9" x2="360.0" y2="747.0"/>
<line x1="885.3" y1="189.6" x2="885.3" y2="223.7"/>
<line x1="833.5" y1="200.3" x2="833.5" y2="232.1"/>
<line x1="787.3" y1="230.4" x2="787.3" y2="277.2"/>
<line x1="751.9" y1="271.2" x2="751.9" y2="324.0"/>
<line x1="723.1" y1="281.2" x2="723.1" y2="312.3"/>
<line x1="691.4" y1="328.4" x2="691.4" y2="367.5"/>
<line x1="799.3" y1="424.8" x2="799.3" y2="485.0"/>
<line x1="920.7" y1="527.4" x2="954.3" y2="527.4"/>
<line x1="924.2" y1="545.1" x2="954.3" y2="545.1"/>
<line x1="874.7" y1="554.7" x2="897.7" y2="554.7"/>
<line x1="887.1" y1="575.2" x2="915.4" y2="575.2"/>
<line x1="830.4" y1="628.3" x2="892.4" y2="628.3"/>
<line x1="830.4" y1="654.9" x2="869.4" y2="654.9"/>
<line x1="830.4" y1="752.9" x2="885.3" y2="752.9"/>
<line x1="811.0" y1="772.4" x2="871.2" y2="772.4"/>
</g>
<text class="t" x="13.2" y="150.3" font-size="24.2" textLength="167.4" lengthAdjust="spacingAndGlyphs" style="fill:#000;stroke:#000;stroke-width:0.25px">ЗДУ-680ЭР(v2)</text>
<g id="labels" class="t lb">
<text x="115.3" y="192.3">3</text>
<text x="115.3" y="234.1">4</text>
<text x="114.7" y="273.8">5</text>
<text x="253.4" y="204.3">2</text>
<text x="97.3" y="337.0">6</text>
<text x="307.9" y="371.5">1</text>
<text x="334.3" y="436.0">17</text>
<text x="51.2" y="485.9">7</text>
<text x="39.1" y="552.8">8</text>
<text x="77.6" y="561.8">9</text>
<text x="108.0" y="568.2">9</text>
<text x="102.3" y="610.3">10</text>
<text x="84.3" y="729.0">11</text>
<text x="169.8" y="717.3">12</text>
<text x="226.7" y="694.9">13</text>
<text x="315.6" y="583.5">14</text>
<text x="288.2" y="787.3">14W</text>
<text x="360.0" y="759.5">14F</text>
<text x="531.9" y="247.1">41</text>
<text x="531.2" y="287.6">40</text>
<text x="532.6" y="354.8">39</text>
<text x="531.9" y="409.6">38</text>
<text x="529.9" y="438.3">37</text>
<text x="405.5" y="291.9">35C</text>
<text x="657.6" y="347.4">24</text>
<text x="624.2" y="375.5">23</text>
<text x="583.1" y="386.8">22</text>
<text x="561.0" y="428.3">21</text>
<text x="528.9" y="461.5">20</text>
<text x="496.8" y="480.2">19</text>
<text x="442.3" y="507.6">18</text>
<text x="343.3" y="499.0">16</text>
<text x="396.2" y="563.5">15</text>
<text x="883.6" y="187.2">30</text>
<text x="832.8" y="198.0">29</text>
<text x="786.3" y="228.0">28</text>
<text x="751.6" y="268.5">27</text>
<text x="723.1" y="278.5">26</text>
<text x="690.7" y="325.7">25</text>
<text x="799.2" y="419.8">31</text>
<text x="963.5" y="532.1">32</text>
<text x="963.5" y="549.8">32</text>
<text x="905.5" y="559.8">32</text>
<text x="925.3" y="579.9">32</text>
<text x="900.2" y="633.0">32</text>
<text x="881.4" y="661.0">32</text>
<text x="894.2" y="756.9">32</text>
<text x="881.8" y="777.1">32</text>
</g>
</svg>
</body></html>
